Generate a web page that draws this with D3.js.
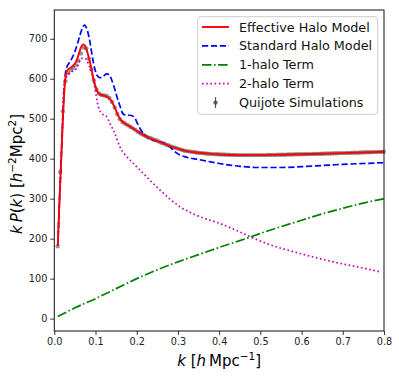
<!DOCTYPE html>
<html>
<head>
<meta charset="utf-8">
<script src="https://cdn.jsdelivr.net/npm/d3@7"></script>
<style>
  body { margin: 0; background: #fff; }
  text { font-family: "DejaVu Sans", sans-serif; }
</style>
</head>
<body>
<div id="chart"></div>
<script>
var W = 399, H = 377;
var margin = {top: 10, right: 15, bottom: 46, left: 54.3};
var width = W - margin.left - margin.right;
var height = H - margin.top - margin.bottom;

// Effective halo model (red)
var effK = [0.0085, 0.012, 0.015, 0.018, 0.0205, 0.023, 0.026, 0.03, 0.035, 0.04, 0.045, 0.05, 0.055, 0.06, 0.065, 0.07, 0.075, 0.08, 0.085, 0.09, 0.095, 0.1, 0.105, 0.11, 0.115, 0.12, 0.125, 0.13, 0.135, 0.14, 0.145, 0.15, 0.155, 0.16, 0.165, 0.17, 0.18, 0.19, 0.2, 0.22, 0.24, 0.26, 0.28, 0.3, 0.32, 0.34, 0.37, 0.4, 0.45, 0.5, 0.55, 0.6, 0.65, 0.7, 0.75, 0.8];
var effP = [183, 280, 355, 430, 495, 545, 592, 618, 625, 628, 632, 638, 648, 664, 679, 686, 682, 667, 648, 625, 600, 581, 567, 561, 559, 558, 556, 553, 549, 542, 532, 520, 508, 499, 493, 489, 483, 477, 470, 457, 448, 440, 432, 425, 419, 416, 413, 410.5, 409, 409, 410, 411, 412.5, 414, 415.5, 417.5];

// Standard halo model (blue dashed)
var stdK = [0.0085, 0.012, 0.015, 0.018, 0.0205, 0.023, 0.026, 0.03, 0.035, 0.04, 0.045, 0.05, 0.055, 0.06, 0.065, 0.07, 0.073, 0.077, 0.082, 0.087, 0.091, 0.095, 0.099, 0.104, 0.11, 0.115, 0.12, 0.127, 0.133, 0.14, 0.145, 0.15, 0.155, 0.16, 0.165, 0.17, 0.18, 0.19, 0.195, 0.2, 0.21, 0.22, 0.23, 0.24, 0.25, 0.26, 0.27, 0.28, 0.29, 0.3, 0.32, 0.35, 0.4, 0.45, 0.5, 0.55, 0.6, 0.65, 0.7, 0.75, 0.8];
var stdP = [183, 280, 357, 435, 500, 555, 605, 628, 638, 646, 656, 668, 684, 701, 718, 731, 734, 730, 714, 690, 663, 640, 622, 608, 603, 603, 607, 612, 610, 595, 580, 562, 545, 530, 515, 510, 509, 507, 503, 492, 472, 459, 451, 446, 443, 441, 437, 430, 420, 412, 404, 398, 388, 381, 378, 378, 380, 383, 386, 388, 390];

// 1-halo term (green dash-dot)
var oneK = [0.0085, 0.05, 0.1, 0.15, 0.2, 0.25, 0.3, 0.35, 0.4, 0.45, 0.5, 0.55, 0.6, 0.65, 0.7, 0.75, 0.8];
var oneP = [5, 27, 50, 75, 100, 122, 142, 160, 178, 195, 213, 230, 246, 262, 276, 289, 300];

// 2-halo term (magenta dotted)
var twoK = [0.0085, 0.012, 0.015, 0.018, 0.0205, 0.022, 0.03, 0.042, 0.054, 0.066, 0.0745, 0.0825, 0.0907, 0.0987, 0.1067, 0.119, 0.127, 0.135, 0.147, 0.159, 0.176, 0.192, 0.216, 0.24, 0.256, 0.305, 0.353, 0.402, 0.45, 0.475, 0.515, 0.596, 0.677, 0.742, 0.79];
var twoP = [183, 280, 355, 428, 490, 560, 605, 617, 626, 651, 651, 638, 613, 576, 530, 509, 505, 488, 463, 430, 405, 388, 363, 338, 322, 280, 255, 238, 217, 205, 188, 163, 142, 128, 117];

// Quijote simulations (binned)
var simK = [0.0083, 0.0146, 0.0209, 0.0271, 0.0334, 0.0397, 0.0460, 0.0523, 0.0585, 0.0648,
  0.0711, 0.0774, 0.0837, 0.0899, 0.0962, 0.1025, 0.1088, 0.1151, 0.1213, 0.1276,
  0.1339, 0.1402, 0.1465, 0.1527, 0.1590, 0.1653, 0.1716, 0.1779, 0.1841, 0.1904,
  0.1967, 0.2030, 0.2093, 0.2155, 0.2218, 0.2281, 0.2344, 0.2407, 0.2469, 0.2532,
  0.2595, 0.2658, 0.2721, 0.2783, 0.2846, 0.2909, 0.2972, 0.3035, 0.3097, 0.3160,
  0.3223, 0.3286, 0.3349, 0.3411, 0.3474, 0.3537, 0.3600, 0.3663, 0.3725, 0.3788,
  0.3851, 0.3914, 0.3977, 0.4039, 0.4102, 0.4165, 0.4228, 0.4291, 0.4353, 0.4416,
  0.4479, 0.4542, 0.4605, 0.4667, 0.4730, 0.4793, 0.4856, 0.4919, 0.4981, 0.5044,
  0.5107, 0.5170, 0.5233, 0.5295, 0.5358, 0.5421, 0.5484, 0.5547, 0.5609, 0.5672,
  0.5735, 0.5798, 0.5861, 0.5923, 0.5986, 0.6049, 0.6112, 0.6175, 0.6237, 0.6300,
  0.6363, 0.6426, 0.6489, 0.6551, 0.6614, 0.6677, 0.6740, 0.6803, 0.6865, 0.6928,
  0.6991, 0.7054, 0.7117, 0.7179, 0.7242, 0.7305, 0.7368, 0.7431, 0.7493, 0.7556,
  0.7619, 0.7682, 0.7745, 0.7807, 0.7870, 0.7933, 0.7996];
var simP = [181, 367, 519, 594, 614, 622, 627, 634, 645, 663,
  678, 676, 650, 624, 596, 573, 563, 559, 558, 557,
  552, 542, 528, 512, 499, 492, 488, 484, 480, 476,
  472, 467, 463, 460, 456, 453, 451, 448, 446, 443,
  440, 438, 435, 433, 430, 428, 426, 424, 422, 420,
  419, 418, 417, 416, 415, 414.5, 414, 413, 412.5, 412,
  411.5, 411, 411, 410.5, 410.5, 410, 410, 409.5, 409.5, 409.5,
  409, 409, 409, 409, 409, 409, 409, 409, 409, 409,
  409, 409.5, 409.5, 409.5, 409.5, 410, 410, 410, 410, 410.5,
  410.5, 410.5, 411, 411, 411, 411, 411.5, 411.5, 411.5, 412,
  412, 412, 412.5, 412.5, 413, 413, 413, 413.5, 413.5, 414,
  414, 414, 414.5, 414.5, 415, 415, 415, 415.5, 415.5, 416,
  416, 416, 416.5, 416.5, 417, 417, 417.5];

var xTicks = [0, 0.1, 0.2, 0.3, 0.4, 0.5, 0.6, 0.7, 0.8];
var yTicks = [0, 100, 200, 300, 400, 500, 600, 700];

var legendLabels = ["Effective Halo Model", "Standard Halo Model", "1-halo Term", "2-halo Term", "Quijote Simulations"];

var svg = d3.select("#chart").append("svg")
    .attr("width", W)
    .attr("height", H);

var g = svg.append("g")
    .attr("transform", "translate(" + margin.left + "," + margin.top + ")");

var xScale = d3.scaleLinear().domain([0, 0.8]).range([0, width]);
var yScale = d3.scaleLinear().domain([-31, 772]).range([height, 0]);

function zip(ks, ps) {
    return ks.map(function(k, i) { return {k: k, p: ps[i]}; });
}

var line = d3.line()
    .x(function(d) { return xScale(d.k); })
    .y(function(d) { return yScale(d.p); })
    .curve(d3.curveMonotoneX);

// simulation points go first, model lines on top
g.selectAll(".sim")
    .data(zip(simK, simP))
    .enter().append("circle")
    .attr("cx", function(d) { return xScale(d.k); })
    .attr("cy", function(d) { return yScale(d.p); })
    .attr("r", 2.2)
    .attr("fill", "#444")
    .attr("fill-opacity", 0.55);

g.append("path").datum(zip(twoK, twoP))
    .attr("d", line).attr("fill", "none")
    .attr("stroke", "#bf00bf").attr("stroke-width", 1.7)
    .attr("stroke-dasharray", "1.6,2.6");

g.append("path").datum(zip(oneK, oneP))
    .attr("d", line).attr("fill", "none")
    .attr("stroke", "green").attr("stroke-width", 1.7)
    .attr("stroke-dasharray", "9.5,2.5,1.6,2.5");

g.append("path").datum(zip(stdK, stdP))
    .attr("d", line).attr("fill", "none")
    .attr("stroke", "blue").attr("stroke-width", 1.7)
    .attr("stroke-dasharray", "6.2,2.7");

g.append("path").datum(zip(effK, effP))
    .attr("d", line).attr("fill", "none")
    .attr("stroke", "red").attr("stroke-width", 1.9);

// axes
var xAxis = g.append("g")
    .attr("transform", "translate(0," + height + ")")
    .call(d3.axisBottom(xScale).tickValues(xTicks).tickFormat(d3.format(".1f")).tickSizeInner(4).tickSizeOuter(0).tickPadding(3));
var yAxis = g.append("g")
    .call(d3.axisLeft(yScale).tickValues(yTicks).tickSizeInner(4).tickSizeOuter(0).tickPadding(3));
[xAxis, yAxis].forEach(function(a) {
    a.select(".domain").remove();
    a.selectAll("line").attr("stroke", "#222").attr("stroke-width", 0.9);
    a.selectAll("text").attr("font-size", "9.7px").attr("fill", "#222")
        .style("font-family", "DejaVu Sans");
});

// frame
g.append("rect")
    .attr("width", width).attr("height", height)
    .attr("fill", "none").attr("stroke", "#111").attr("stroke-width", 1);

// axis labels
var xl = svg.append("text")
    .attr("x", margin.left + width / 2)
    .attr("y", 366)
    .attr("text-anchor", "middle")
    .attr("font-size", "15px");
xl.append("tspan").attr("font-style", "italic").text("k");
xl.append("tspan").text(" [");
xl.append("tspan").attr("font-style", "italic").text("h");
xl.append("tspan").text("\u2009Mpc");
xl.append("tspan").attr("font-size", "10.5px").attr("dy", -6).text("\u22121");
xl.append("tspan").attr("dy", 6).text("]");

var yl = svg.append("text")
    .attr("transform", "translate(22,174) rotate(-90)")
    .attr("text-anchor", "middle")
    .attr("font-size", "15px");
yl.append("tspan").attr("font-style", "italic").text("k\u2009P");
yl.append("tspan").text("(");
yl.append("tspan").attr("font-style", "italic").text("k");
yl.append("tspan").text(") [");
yl.append("tspan").attr("font-style", "italic").text("h");
yl.append("tspan").attr("font-size", "10.5px").attr("dy", -6).text("\u22122");
yl.append("tspan").attr("dy", 6).text("Mpc");
yl.append("tspan").attr("font-size", "10.5px").attr("dy", -6).text("2");
yl.append("tspan").attr("dy", 6).text("]");

// legend
var leg = svg.append("g");
leg.append("rect")
    .attr("x", 197.7).attr("y", 16.7)
    .attr("width", 180).attr("height", 97.6)
    .attr("rx", 3).attr("ry", 3)
    .attr("fill", "#fff").attr("fill-opacity", 0.8)
    .attr("stroke", "#ccc").attr("stroke-width", 1);

var legStyles = [
    {stroke: "red", dash: null, w: 1.9},
    {stroke: "blue", dash: "6.2,2.7", w: 1.7},
    {stroke: "green", dash: "9.5,2.5,1.6,2.5", w: 1.7},
    {stroke: "#bf00bf", dash: "1.6,2.6", w: 1.7},
    null
];

legendLabels.forEach(function(lab, i) {
    var yy = 27 + i * 18.9;
    var s = legStyles[i];
    if (s) {
        leg.append("line")
            .attr("x1", 202).attr("x2", 229)
            .attr("y1", yy).attr("y2", yy)
            .attr("stroke", s.stroke).attr("stroke-width", s.w)
            .attr("stroke-dasharray", s.dash);
    } else {
        leg.append("line")
            .attr("x1", 215.5).attr("x2", 215.5)
            .attr("y1", yy - 5.5).attr("y2", yy + 5.5)
            .attr("stroke", "#555").attr("stroke-width", 1.2);
        leg.append("circle")
            .attr("cx", 215.5).attr("cy", yy).attr("r", 2.2)
            .attr("fill", "#444").attr("fill-opacity", 0.8);
    }
    leg.append("text")
        .attr("x", 239).attr("y", yy)
        .attr("dy", "0.36em")
        .attr("font-size", "12.75px")
        .attr("fill", "#111")
        .text(lab);
});
</script>
</body>
</html>
